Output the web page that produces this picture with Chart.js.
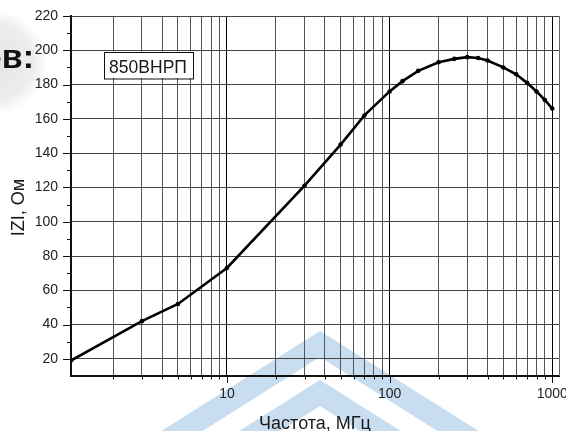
<!DOCTYPE html>
<html>
<head>
<meta charset="utf-8">
<script src="https://cdn.jsdelivr.net/npm/chart.js@4.4.1/dist/chart.umd.min.js"></script>
<style>
  html, body { margin: 0; padding: 0; background: #fff; }
  #wrap { position: relative; width: 566px; height: 431px; overflow: hidden; }
  #heading {
    position: absolute; left: -19px; top: 39px;
    font: bold 34px "Liberation Sans", Arial, sans-serif; line-height: 34px;
    color: #111; white-space: nowrap;
  }
</style>
</head>
<body>
<div id="wrap">
  <canvas id="chart" width="566" height="431"></canvas>
  <div id="heading">ов:</div>
</div>
<script>
// частота, МГц и модуль импеданса, Ом
const freqMHz = [1.1, 3, 5, 10, 30, 50, 70, 100, 120, 150, 200, 250, 300, 350, 400, 500, 600, 700, 800, 900, 1000]
const impedanceOhm = [19, 42, 52, 73, 121, 145, 162, 176, 182, 188, 193, 195, 196, 195.5, 194, 190, 186, 181, 176, 171, 166]

// деления осей
const xTicks = [2, 3, 4, 5, 6, 7, 8, 9, 10, 20, 30, 40, 50, 60, 70, 80, 90, 100, 200, 300, 400, 500, 600, 700, 800, 900, 1000]
const xLabels = [10, 100, 1000]
const yTicks = [20, 40, 60, 80, 100, 120, 140, 160, 180, 200, 220]
const yMinorTicks = [30, 50, 70, 90, 110, 130, 150, 170, 190, 210]

const seriesLabel = '850ВНРП'
const xTitle = 'Частота, МГц'
const yTitle = 'IZI, Ом'

const FONT = '"Liberation Sans", Arial, sans-serif'

// фон: серое пятно слева и голубой водяной знак
function drawBackdrop(ctx) {
  ctx.save()
  const g = ctx.createRadialGradient(-5, 62, 5, -5, 62, 52)
  g.addColorStop(0, 'rgba(0,0,0,0.10)')
  g.addColorStop(0.7, 'rgba(0,0,0,0.07)')
  g.addColorStop(1, 'rgba(0,0,0,0)')
  ctx.fillStyle = g
  ctx.fillRect(0, 0, 70, 130)

  ctx.fillStyle = '#c8ddf0'
  const cx = 320, slope = 0.63, thick = 26, w = 320
  for (const top of [331, 380]) {
    ctx.beginPath()
    ctx.moveTo(cx - w, top + slope * w)
    ctx.lineTo(cx, top)
    ctx.lineTo(cx + w, top + slope * w)
    ctx.lineTo(cx + w, top + thick + slope * w)
    ctx.lineTo(cx, top + thick)
    ctx.lineTo(cx - w, top + thick + slope * w)
    ctx.closePath()
    ctx.fill()
  }
  ctx.restore()
}

const decor = {
  id: 'decor',
  beforeDraw(chart) {
    drawBackdrop(chart.ctx)
  },
  afterDraw(chart) {
    const { ctx, chartArea: area, scales: { x, y } } = chart
    ctx.save()

    // правая рамка
    ctx.strokeStyle = '#666'
    ctx.lineWidth = 1
    ctx.beginPath()
    ctx.moveTo(Math.round(area.right) + 0.5, area.top)
    ctx.lineTo(Math.round(area.right) + 0.5, area.bottom)
    ctx.stroke()

    // засечки наружу
    ctx.strokeStyle = '#111'
    ctx.beginPath()
    for (const v of xTicks) {
      const px = Math.round(x.getPixelForValue(v)) + 0.5
      const len = xLabels.includes(v) ? 7 : 3.5
      ctx.moveTo(px, area.bottom)
      ctx.lineTo(px, area.bottom + len)
    }
    for (const v of yTicks) {
      const py = Math.round(y.getPixelForValue(v)) + 0.5
      ctx.moveTo(area.left, py)
      ctx.lineTo(area.left - 8, py)
    }
    for (const v of yMinorTicks) {
      const py = Math.round(y.getPixelForValue(v)) + 0.5
      ctx.moveTo(area.left, py)
      ctx.lineTo(area.left - 4, py)
    }
    ctx.stroke()

    // подписи осей
    ctx.fillStyle = '#1a1a1a'
    ctx.font = '18px ' + FONT
    ctx.textAlign = 'center'
    ctx.textBaseline = 'alphabetic'
    ctx.fillText(xTitle, (area.left + area.right) / 2, 428.5)

    ctx.save()
    ctx.translate(23.5, 207.5)
    ctx.rotate(-Math.PI / 2)
    ctx.fillText(yTitle, 0, 0)
    ctx.restore()

    // рамка с названием материала
    const bx = area.left + 32.5, by = area.top + 35.5, bw = 89, bh = 26.5
    ctx.fillStyle = '#fff'
    ctx.fillRect(bx, by, bw, bh)
    ctx.strokeStyle = '#111'
    ctx.lineWidth = 1
    ctx.strokeRect(Math.round(bx) + 0.5, Math.round(by) + 0.5, bw, bh)
    ctx.fillStyle = '#1a1a1a'
    ctx.font = '17.5px ' + FONT
    ctx.fillText(seriesLabel, bx + bw / 2, by + 21)

    ctx.restore()
  },
}

const ctx = document.getElementById('chart').getContext('2d')
new Chart(ctx, {
  type: 'line',
  data: {
    datasets: [{
      label: seriesLabel,
      data: freqMHz.map((f, i) => ({ x: f, y: impedanceOhm[i] })),
      borderColor: '#000',
      backgroundColor: '#000',
      borderWidth: 2.6,
      pointRadius: 2.3,
      pointHoverRadius: 2.3,
      pointBorderWidth: 0,
      tension: 0,
    }],
  },
  options: {
    responsive: false,
    animation: false,
    events: [],
    layout: { padding: { top: 16, right: 7, left: 0, bottom: 0 } },
    plugins: {
      legend: { display: false },
      tooltip: { enabled: false },
    },
    scales: {
      x: {
        type: 'logarithmic',
        min: 1.1,
        max: 1100,
        afterBuildTicks: s => { s.ticks = xTicks.map(v => ({ value: v, major: xLabels.includes(v) })) },
        afterFit: s => { s.height = 55; s.paddingLeft = 0; s.paddingRight = 0 },
        ticks: {
          autoSkip: false,
          maxRotation: 0,
          padding: 10,
          color: '#222',
          font: { family: FONT, size: 14 },
          callback: v => (xLabels.includes(v) ? String(v) : ''),
        },
        grid: {
          drawTicks: false,
          lineWidth: 1,
          color: c => (c.tick && xLabels.includes(c.tick.value) ? '#000' : '#555'),
        },
        border: { color: '#111', width: 2 },
      },
      y: {
        type: 'linear',
        min: 10,
        max: 220,
        afterBuildTicks: s => { s.ticks = yTicks.map(v => ({ value: v })) },
        afterFit: s => { s.width = 71; s.paddingTop = 0; s.paddingBottom = 0 },
        ticks: {
          padding: 13,
          color: '#222',
          font: { family: FONT, size: 14 },
        },
        grid: { drawTicks: false, lineWidth: 1, color: '#444' },
        border: { color: '#111', width: 2 },
      },
    },
  },
  plugins: [decor],
})
</script>
</body>
</html>
